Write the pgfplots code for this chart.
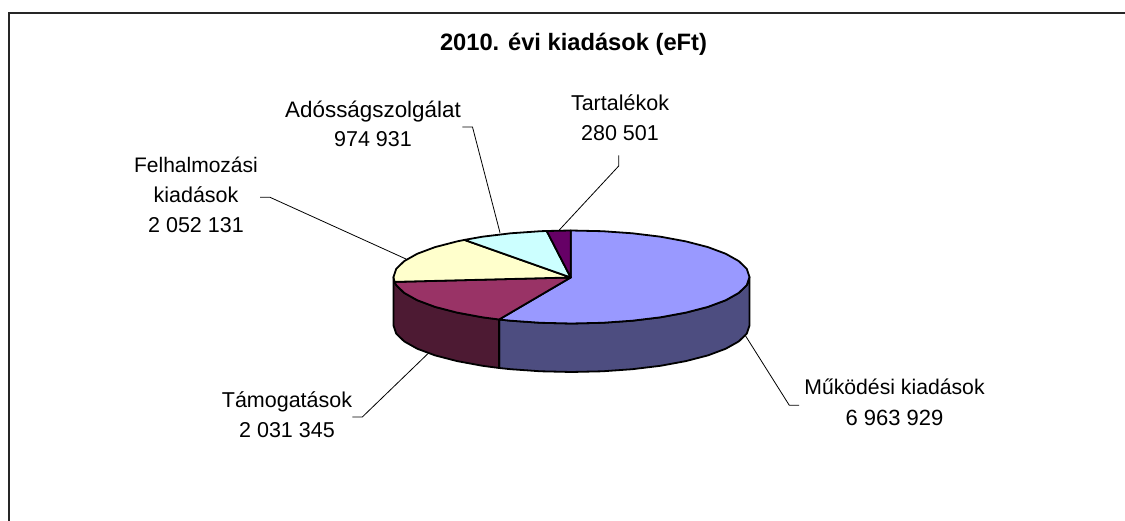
\documentclass[border=0pt]{standalone}
\usepackage{fontspec}
\setmainfont{Liberation Sans}
\usepackage{pgfplots}
\pgfplotsset{compat=1.18}
\definecolor{sA}{HTML}{9999FF}
\definecolor{sB}{HTML}{993366}
\definecolor{sC}{HTML}{FFFFCC}
\definecolor{sD}{HTML}{CCFFFF}
\definecolor{sE}{HTML}{660066}
\definecolor{wA}{HTML}{4D4D80}
\definecolor{wB}{HTML}{4D1A33}
\tikzset{lab/.style={anchor=base, font=\fontsize{21.5}{25}\selectfont, inner sep=0pt, text=black}}
\begin{document}
\begin{tikzpicture}
\path[use as bounding box] (0,0) rectangle (1125pt,521pt);
\begin{axis}[
  at={(0,0)}, anchor=south west,
  scale only axis, width=1125pt, height=521pt,
  xmin=0, xmax=1125, ymin=0, ymax=521, y dir=reverse,
  hide axis, clip=true,
]
% frame
\addplot[draw=black!85, line width=2pt, line cap=butt] coordinates {(9,521) (9,13) (1125,13)};
% leader lines
\addplot[black, line width=0.8pt] coordinates {(260,197.3) (270,197.3) (406,259)};
\addplot[black, line width=0.8pt] coordinates {(462.3,127) (472.5,127) (500,232.7)};
\addplot[black, line width=0.8pt] coordinates {(618.7,155.3) (618.7,166) (559.3,230)};
\addplot[black, line width=0.8pt] coordinates {(745,335) (789.3,405.3) (799,405.3)};
\addplot[black, line width=0.8pt] coordinates {(352.3,417) (362.3,417) (428.3,353.3)};
% side walls
\addplot[fill=wA, draw=black, line width=1.8pt, line join=round] coordinates {
 (749.5,277) (746.8,285.1) (738.8,292.9) (725.7,300.25) (707.9,306.9) (685.9,312.6) (660.5,317.3)
 (632.4,320.7) (602.4,322.8) (571.5,323.5) (540.6,322.8) (510.6,320.7) (499.1,319.5)
 (499.1,368) (510.6,369.2) (540.6,371.3) (571.5,372) (602.4,371.3) (632.4,369.2) (660.5,365.8)
 (685.9,361.1) (707.9,355.4) (725.7,348.75) (738.8,341.4) (746.8,333.6) (749.5,325.5)
} -- cycle;
\addplot[fill=wB, draw=black, line width=1.8pt, line join=round] coordinates {
 (499.1,319.5) (482.5,317.3) (457.1,312.6) (435.1,306.9) (417.3,300.25) (404.2,292.9) (396.2,285.1) (393.5,277)
 (393.5,325.5) (396.2,333.6) (404.2,341.4) (417.3,348.75) (435.1,355.4) (457.1,361.1) (482.5,365.8) (499.1,368)
} -- cycle;
% top slices
\addplot[fill=sA, draw=black, line width=1.8pt, line join=round] coordinates {
 (570.7,277.5) (570.7,230.5) (602.4,231.2) (632.4,233.3) (660.5,236.7) (685.9,241.4) (707.9,247.1)
 (725.7,253.75) (738.8,261.1) (746.8,268.9) (749.5,277) (746.8,285.1) (738.8,292.9) (725.7,300.25)
 (707.9,306.9) (685.9,312.6) (660.5,317.3) (632.4,320.7) (602.4,322.8) (571.5,323.5) (540.6,322.8)
 (510.6,320.7) (499.1,319.5)
} -- cycle;
\addplot[fill=sB, draw=black, line width=1.8pt, line join=round] coordinates {
 (570.7,277.5) (499.1,319.5) (482.5,317.3) (457.1,312.6) (435.1,306.9) (417.3,300.25) (404.2,292.9)
 (396.2,285.1) (394.5,281.9)
} -- cycle;
\addplot[fill=sC, draw=black, line width=1.8pt, line join=round] coordinates {
 (570.7,277.5) (394.5,281.9) (393.5,277) (396.2,268.9) (404.2,261.1) (417.3,253.75) (435.1,247.1) (457.1,241.4) (464.4,239.9)
} -- cycle;
\addplot[fill=sD, draw=black, line width=1.8pt, line join=round] coordinates {
 (570.7,277.5) (464.4,239.9) (482.5,236.7) (510.6,233.3) (540.6,231.2) (546.7,231)
} -- cycle;
\addplot[fill=sE, draw=black, line width=1.8pt, line join=round] coordinates {
 (570.7,277.5) (546.7,231) (570.7,230.5)
} -- cycle;
% texts
\node[lab, font=\fontsize{23.7}{28}\selectfont\bfseries] at (axis cs:573.5,51) {2010. évi kiadások (eFt)};
\node[lab, font=\fontsize{21}{25}\selectfont] at (axis cs:196,173) {Felhalmozási};
\node[lab] at (axis cs:196,203) {kiadások};
\node[lab] at (axis cs:196,232.7) {2 052 131};
\node[lab, font=\fontsize{22.4}{25}\selectfont] at (axis cs:373,117.3) {Adósságszolgálat};
\node[lab] at (axis cs:373,146.7) {974 931};
\node[lab] at (axis cs:620,111) {Tartalékok};
\node[lab] at (axis cs:620,141) {280 501};
\node[lab, font=\fontsize{21.2}{25}\selectfont] at (axis cs:894.5,395) {Működési kiadások};
\node[lab, font=\fontsize{22}{25}\selectfont] at (axis cs:894.5,425) {6 963 929};
\node[lab] at (axis cs:287,407.7) {Támogatások};
\node[lab] at (axis cs:287,437) {2 031 345};
\end{axis}
\end{tikzpicture}
\end{document}
